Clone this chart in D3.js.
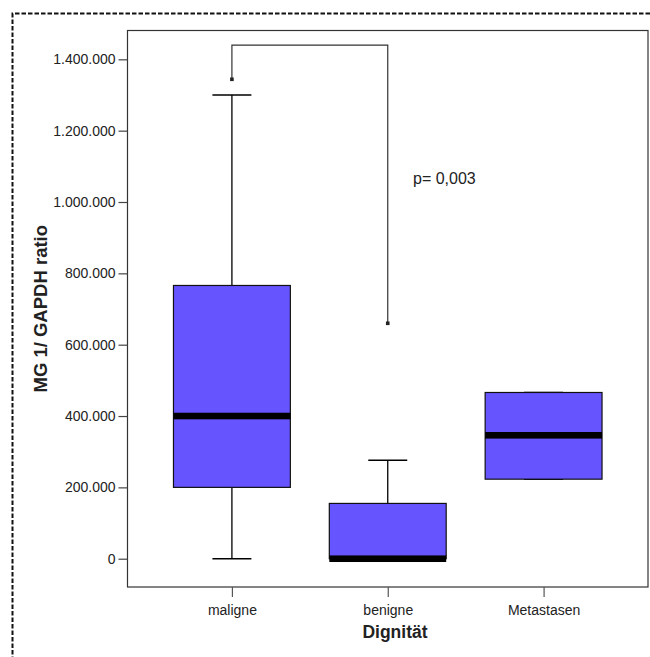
<!DOCTYPE html>
<html>
<head>
<meta charset="utf-8">
<script src="https://cdn.jsdelivr.net/npm/d3@7"></script>
<style>
  html, body { margin: 0; padding: 0; background: #fff; }
  svg { display: block; }
  text { font-family: "Liberation Sans", Arial, sans-serif; fill: #222; }
</style>
</head>
<body>
<svg id="chart" width="650" height="657"></svg>
<script>
// Groups and their box-plot statistics (MG 1 / GAPDH ratio)
const categories  = ["maligne", "benigne", "Metastasen"];
const whiskerLow  = [0, 0, 223000];
const q1          = [200000, 0, 223000];
const median      = [400000, 0, 346000];
const q3          = [766000, 155000, 466000];
const whiskerHigh = [1300000, 276000, 466000];
const outliers    = [1344000, 660000, null];

// Significance bracket between maligne and benigne
const bracketTop  = 1440000;
const pLabel      = "p= 0,003";

const yTicks = [0, 200000, 400000, 600000, 800000, 1000000, 1200000, 1400000];
const yTitle = "MG 1/ GAPDH ratio";
const xTitle = "Dignität";

const svg = d3.select("#chart");

// Plot frame
const frameL = 127.5, frameR = 648, frameT = 30.5, frameB = 587;

const x = d3.scalePoint().domain(categories).range([frameL, frameR]).padding(0.67);
const y = d3.scaleLinear().domain([-79300, 1480800]).range([frameB, frameT]);
const step = x.step();
const boxW = step * 0.75;
const capW = step * 0.25;

const de = d3.formatLocale({ decimal: ",", thousands: ".", grouping: [3], currency: ["", " €"] });
const fmt = de.format(",d");

// Outer dashed border (only top and left edges fall inside the view)
svg.append("path")
  .attr("d", "M12.5,700 L12.5,13.5 L700,13.5")
  .attr("fill", "none")
  .attr("stroke", "#111")
  .attr("stroke-width", 2)
  .attr("stroke-dasharray", "4.5,2");

// Frame
svg.append("rect")
  .attr("x", frameL).attr("y", frameT)
  .attr("width", frameR - frameL).attr("height", frameB - frameT)
  .attr("fill", "#fff")
  .attr("stroke", "#333").attr("stroke-width", 1.2);

// Y axis
const yAxis = svg.append("g")
  .attr("transform", `translate(${frameL},0)`)
  .call(d3.axisLeft(y).tickValues(yTicks).tickFormat(fmt).tickSize(9).tickPadding(3));
yAxis.select(".domain").remove();
yAxis.selectAll(".tick line").attr("stroke", "#444").attr("stroke-width", 1.2);
yAxis.selectAll(".tick text")
  .attr("font-size", 14)
  .attr("font-family", "'Liberation Sans', Arial, sans-serif")
  .attr("fill", "#222");

// X axis
const xAxis = svg.append("g")
  .attr("transform", `translate(0,${frameB})`)
  .call(d3.axisBottom(x).tickSize(10).tickPadding(8));
xAxis.select(".domain").remove();
xAxis.selectAll(".tick line").attr("stroke", "#555").attr("stroke-width", 1.2);
xAxis.selectAll(".tick text")
  .attr("font-size", 14)
  .attr("font-family", "'Liberation Sans', Arial, sans-serif")
  .attr("fill", "#222");

// Axis titles
svg.append("text")
  .attr("transform", `translate(46.5,${(frameT + frameB) / 2}) rotate(-90)`)
  .attr("text-anchor", "middle")
  .attr("font-size", 18.5)
  .attr("font-weight", "bold")
  .text(yTitle);

svg.append("text")
  .attr("x", 395).attr("y", 638)
  .attr("text-anchor", "middle")
  .attr("font-size", 17.5)
  .attr("font-weight", "bold")
  .text(xTitle);

// Significance bracket linking the two outliers
const xa = x(categories[0]), xb = x(categories[1]);
svg.append("path")
  .attr("d", `M${xa},${y(outliers[0])} V${y(bracketTop)} H${xb} V${y(outliers[1])}`)
  .attr("fill", "none")
  .attr("stroke", "#333")
  .attr("stroke-width", 1.2);

svg.append("text")
  .attr("x", 413).attr("y", 184)
  .attr("font-size", 16)
  .text(pLabel);

// Boxes
const g = svg.append("g");
categories.forEach((c, i) => {
  const cx = x(c);
  // whiskers
  g.append("line")
    .attr("x1", cx).attr("x2", cx)
    .attr("y1", y(q3[i])).attr("y2", y(whiskerHigh[i]))
    .attr("stroke", "#000").attr("stroke-width", 1.3);
  g.append("line")
    .attr("x1", cx).attr("x2", cx)
    .attr("y1", y(q1[i])).attr("y2", y(whiskerLow[i]))
    .attr("stroke", "#000").attr("stroke-width", 1.3);
  [whiskerHigh[i], whiskerLow[i]].forEach(v => {
    g.append("line")
      .attr("x1", cx - capW / 2).attr("x2", cx + capW / 2)
      .attr("y1", y(v)).attr("y2", y(v))
      .attr("stroke", "#000").attr("stroke-width", 1.5);
  });
  // box
  g.append("rect")
    .attr("x", cx - boxW / 2).attr("width", boxW)
    .attr("y", y(q3[i])).attr("height", Math.max(0, y(q1[i]) - y(q3[i])))
    .attr("fill", "#6655ff")
    .attr("stroke", "#111").attr("stroke-width", 1.2);
  // median band
  g.append("rect")
    .attr("x", cx - boxW / 2).attr("width", boxW)
    .attr("y", y(median[i]) - 3.3).attr("height", 6.6)
    .attr("fill", "#000");
  // outlier marker
  if (outliers[i] != null) {
    g.append("rect")
      .attr("x", cx - 1.8).attr("y", y(outliers[i]) - 1.8)
      .attr("width", 3.6).attr("height", 3.6)
      .attr("fill", "#222");
  }
});
</script>
</body>
</html>
